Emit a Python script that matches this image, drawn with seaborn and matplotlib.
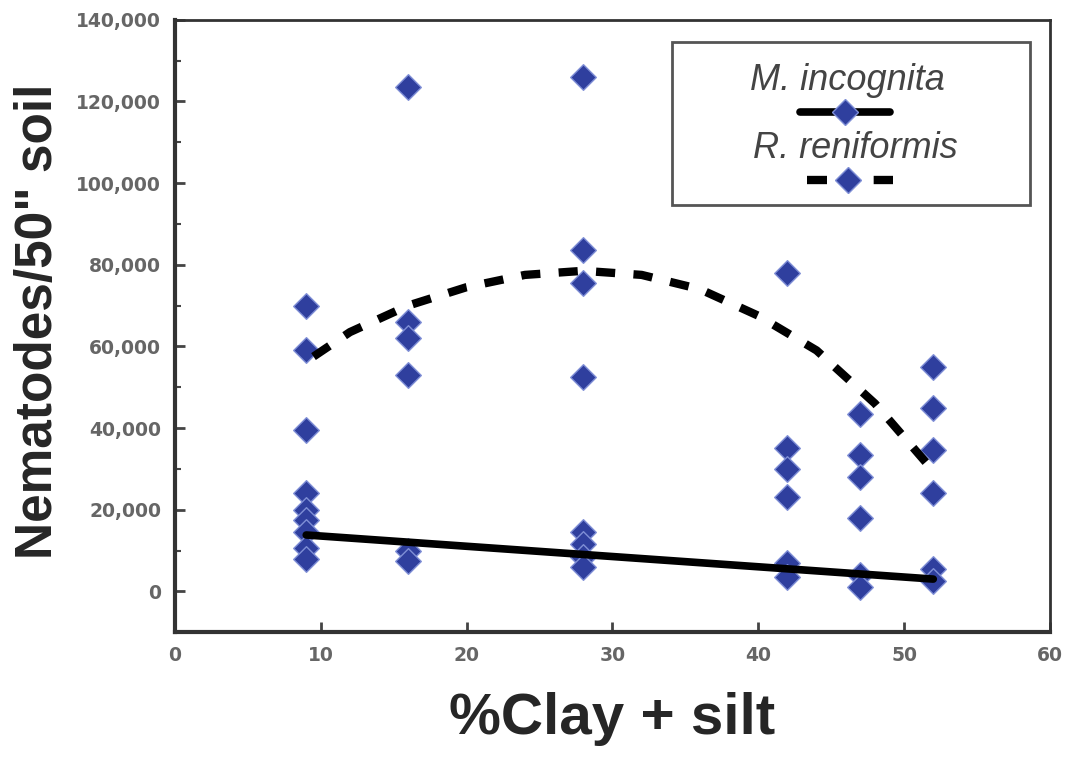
import numpy as np
import pandas as pd
import matplotlib.pyplot as plt
import seaborn as sns
from matplotlib.patches import Rectangle
from matplotlib.lines import Line2D
from matplotlib.ticker import FuncFormatter, MultipleLocator

clay_mi = [9, 9, 9, 9, 9, 9, 16, 16, 28, 28, 28, 28, 42, 42, 47, 47, 52, 52]
count_mi = [24000, 20000, 17500, 14500, 10500, 8000, 10000, 7500,
            14500, 11500, 8500, 6000, 7000, 3500, 4000, 1000, 5500, 2500]

clay_rr = [9, 9, 9, 16, 16, 16, 16, 28, 28, 28, 28,
           42, 42, 42, 42, 47, 47, 47, 47, 52, 52, 52, 52]
count_rr = [70000, 59000, 39500, 123500, 66000, 62000, 53000,
            126000, 83500, 75500, 52500, 78000, 35000, 30000, 23000,
            43500, 33500, 28000, 18000, 55000, 45000, 34500, 24000]

# Fitted trend lines
fit_mi_x = [9, 52]
fit_mi_y = [13800, 3000]
fit_rr_x = [9.5, 12, 16, 20, 24, 28, 32, 36, 40, 44, 48, 52]
fit_rr_y = [57500, 63500, 70000, 74500, 77500, 78500, 77500, 74000,
            67500, 59000, 46000, 29500]

x_ticks = [0, 10, 20, 30, 40, 50, 60]
y_ticks = [0, 20000, 40000, 60000, 80000, 100000, 120000, 140000]

species = ['M. incognita', 'R. reniformis']

pts = pd.DataFrame({
    'clay': clay_mi + clay_rr,
    'count': count_mi + count_rr,
    'species': [species[0]] * len(clay_mi) + [species[1]] * len(clay_rr),
})

sns.set_theme(style='white')
plt.rcParams['font.family'] = ['Liberation Sans', 'DejaVu Sans']

blue = '#2f3f9e'
dash = (0, (2.3, 2.2))

fig = plt.figure(figsize=(10.67, 7.58), dpi=100)
ax = fig.add_axes([0.164, 0.166, 0.820, 0.808])

sns.scatterplot(data=pts, x='clay', y='count', ax=ax, marker='D', s=170,
                color=blue, edgecolor='#7f8fd6', linewidth=1, zorder=2,
                legend=False)
sns.lineplot(x=fit_mi_x, y=fit_mi_y, ax=ax, color='black', lw=5.5,
             zorder=3, estimator=None)
sns.lineplot(x=fit_rr_x, y=fit_rr_y, ax=ax, color='black', lw=6,
             linestyle=dash, zorder=3, estimator=None)

ax.set_xlim(0, 60)
ax.set_ylim(-10000, 140000)
ax.set_xticks(x_ticks)
ax.set_yticks(y_ticks)
ax.yaxis.set_minor_locator(MultipleLocator(10000))
ax.yaxis.set_major_formatter(FuncFormatter(lambda v, p: f'{int(v):,}'))
ax.tick_params(axis='both', which='major', direction='in', length=7, width=2,
               color='#444444', labelsize=13.5, labelcolor='#666666', pad=10)
ax.tick_params(axis='y', which='minor', direction='in', length=4, width=1.5,
               color='#444444', left=True)
ax.tick_params(axis='both', left=True, bottom=True)
for lab in ax.get_xticklabels() + ax.get_yticklabels():
    lab.set_fontweight('bold')
    lab.set_family('DejaVu Sans')

for side, sp in ax.spines.items():
    sp.set_visible(True)
    sp.set_color('#333333')
    sp.set_linewidth(3 if side in ('left', 'bottom') else 2)

ax.set_xlabel('%Clay + silt', fontsize=42, fontweight='bold')
ax.set_ylabel('Nematodes/50" soil', fontsize=37, fontweight='bold')
ax.xaxis.set_label_coords(0.5, -0.098)
ax.yaxis.set_label_coords(-0.128, 0.507)

# legend: label above its line sample
ax.add_patch(Rectangle((0.568, 0.698), 0.409, 0.266, transform=ax.transAxes,
                       fill=False, edgecolor='#555555', lw=2, zorder=5))
ax.text(0.768, 0.900, species[0], transform=ax.transAxes, ha='center',
        va='center', fontsize=26, style='italic', color='#444444', zorder=6)
ax.text(0.778, 0.790, species[1], transform=ax.transAxes, ha='center',
        va='center', fontsize=26, style='italic', color='#444444', zorder=6)
ax.add_line(Line2D([0.714, 0.817], [0.850, 0.850], transform=ax.transAxes,
                   color='black', lw=5.5, zorder=6))
ax.add_line(Line2D([0.722, 0.821], [0.739, 0.739], transform=ax.transAxes,
                   color='black', lw=6, linestyle=(0, (2.4, 5.6)), zorder=6))
for xx, yy in ((0.766, 0.850), (0.769, 0.739)):
    ax.add_line(Line2D([xx], [yy], transform=ax.transAxes, marker='D',
                       ms=13, color=blue, markeredgecolor='#7f8fd6',
                       zorder=7))

fig.savefig('out.png', dpi=100)
